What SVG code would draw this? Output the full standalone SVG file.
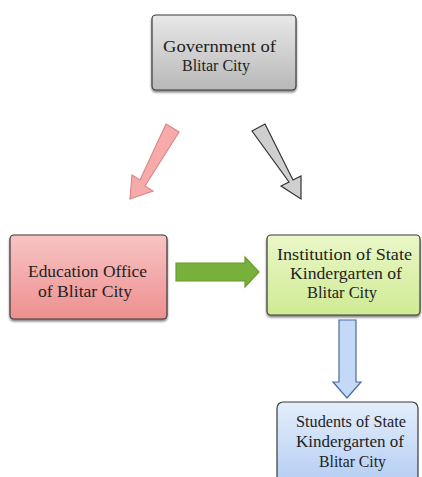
<svg xmlns="http://www.w3.org/2000/svg" width="422" height="477" viewBox="0 0 422 477">
<style>
text{font-family:"Liberation Serif","Times New Roman",serif;font-size:16px;fill:#222;text-anchor:middle}
.box{stroke:#3a3a3a;stroke-width:1.2}
.arr{stroke-width:1.2}
</style>
<defs>
<linearGradient id="gGray" x1="0" y1="0" x2="0" y2="1"><stop offset="0" stop-color="#e8e8e8"/><stop offset="1" stop-color="#b8b8b8"/></linearGradient>
<linearGradient id="gRed" x1="0" y1="0" x2="0" y2="1"><stop offset="0" stop-color="#f8c4c4"/><stop offset="1" stop-color="#ee8f8f"/></linearGradient>
<linearGradient id="gGreen" x1="0" y1="0" x2="0" y2="1"><stop offset="0" stop-color="#eaf7c8"/><stop offset="1" stop-color="#cfeb94"/></linearGradient>
<linearGradient id="gBlue" x1="0" y1="0" x2="0" y2="1"><stop offset="0" stop-color="#e4eefc"/><stop offset="1" stop-color="#b4cdf3"/></linearGradient>
<filter id="sh" x="-10%" y="-10%" width="120%" height="130%"><feDropShadow dx="0" dy="2" stdDeviation="1" flood-color="#000" flood-opacity="0.5"/></filter>
</defs>
<g id="connectors">
<path class="arr" d="M166,124 L179,132 L145,186 L153,191 L130,199 L132,175 L140,180 Z" fill="#f6aaaa" stroke="#d88"/>
<path class="arr" d="M252,131 L265,124 L293,180 L301,176 L301,199 L281,186 L289,182 Z" fill="#cfcfcf" stroke="#333"/>
<path class="arr" d="M176,263 L245,263 L245,257 L259,272 L245,287 L245,281 L176,281 Z" fill="#77b03a" stroke="#6a9a30"/>
<path class="arr" d="M339,320 L356,320 L356,382 L361,382 L347,398 L333,382 L339,382 Z" fill="#c4d9f7" stroke="#4a6da0"/>
</g>
<g id="gov">
<rect class="box" x="152" y="15" width="144" height="75" rx="4" fill="url(#gGray)" filter="url(#sh)"/>
<text x="219.5" y="52" textLength="113" lengthAdjust="spacingAndGlyphs">Government of</text>
<text x="216" y="71" textLength="68" lengthAdjust="spacingAndGlyphs">Blitar City</text>
</g>
<g id="edu">
<rect class="box" x="10" y="235" width="157" height="84" rx="4" fill="url(#gRed)" filter="url(#sh)"/>
<text x="87.5" y="277" textLength="119" lengthAdjust="spacingAndGlyphs">Education Office</text>
<text x="85" y="297" textLength="94" lengthAdjust="spacingAndGlyphs">of Blitar City</text>
</g>
<g id="inst">
<rect class="box" x="267" y="235" width="153" height="80" rx="4" fill="url(#gGreen)" filter="url(#sh)"/>
<text x="344.5" y="260" textLength="135" lengthAdjust="spacingAndGlyphs">Institution of State</text>
<text x="346" y="279" textLength="112" lengthAdjust="spacingAndGlyphs">Kindergarten of</text>
<text x="342" y="298" textLength="70" lengthAdjust="spacingAndGlyphs">Blitar City</text>
</g>
<g id="students">
<rect class="box" x="277" y="402" width="141" height="82" rx="6" fill="url(#gBlue)"/>
<text x="351" y="427" textLength="110" lengthAdjust="spacingAndGlyphs">Students of State</text>
<text x="350" y="447" textLength="108" lengthAdjust="spacingAndGlyphs">Kindergarten of</text>
<text x="352.5" y="467" textLength="67" lengthAdjust="spacingAndGlyphs">Blitar City</text>
</g>
</svg>
